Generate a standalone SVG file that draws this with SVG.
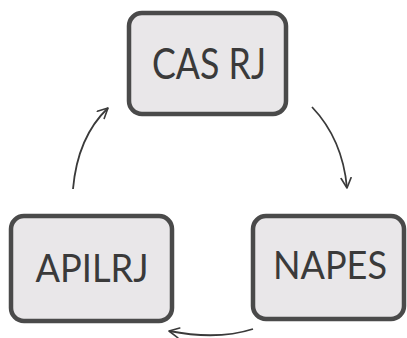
<svg xmlns="http://www.w3.org/2000/svg" width="407" height="338" viewBox="0 0 407 338">
<defs>
<marker id="ah" viewBox="0 0 12 12" refX="11" refY="6" markerWidth="12" markerHeight="12" markerUnits="userSpaceOnUse" orient="auto">
<path d="M1,1 L11,6 L1,11" fill="none" stroke="#3a3a3a" stroke-width="1.6" stroke-linecap="round" stroke-linejoin="round"/>
</marker>
</defs>
<style>
.box{fill:#e9e7e9;stroke:#4a4a4a;stroke-width:4.5}
.lbl{font-family:"Lato","Liberation Sans",sans-serif;fill:#3a3a3a;text-anchor:middle}
.conn{fill:none;stroke:#3a3a3a;stroke-width:1.8;marker-end:url(#ah)}
</style>
<rect width="407" height="338" fill="#ffffff"/>
<g id="connectors">
<path class="conn" d="M73,189 C76,155 88,127 108,108"/>
<path class="conn" d="M312,107 C332,128 344,155 347,188"/>
<path class="conn" d="M253,329 C225,338 195,336 169,331"/>
</g>
<g id="cas-rj">
<rect class="box" x="129" y="13" width="157" height="101" rx="13"/>
<text class="lbl" x="209" y="79" font-size="43" textLength="114" lengthAdjust="spacingAndGlyphs">CAS RJ</text>
</g>
<g id="apilrj">
<rect class="box" x="11" y="216" width="161" height="105" rx="13"/>
<text class="lbl" x="92" y="282" font-size="38" textLength="113" lengthAdjust="spacingAndGlyphs">APILRJ</text>
</g>
<g id="napes">
<rect class="box" x="253" y="216" width="151" height="103" rx="13"/>
<text class="lbl" x="330" y="279" font-size="38" textLength="114" lengthAdjust="spacingAndGlyphs">NAPES</text>
</g>
</svg>
